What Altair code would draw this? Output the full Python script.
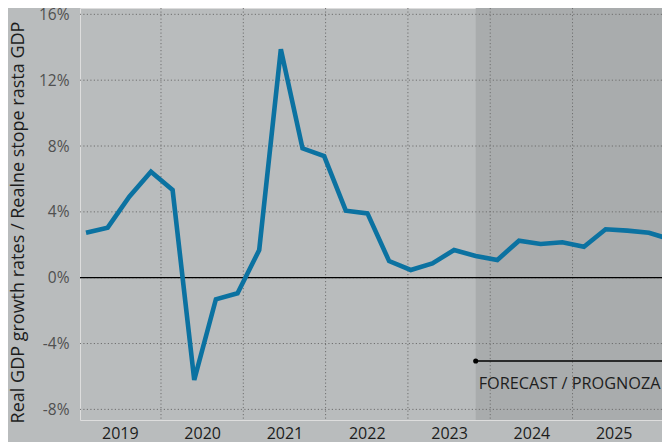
import altair as alt
import pandas as pd

# ---- data -------------------------------------------------------------
quarters = ["2019Q1", "2019Q2", "2019Q3", "2019Q4",
            "2020Q1", "2020Q2", "2020Q3", "2020Q4",
            "2021Q1", "2021Q2", "2021Q3", "2021Q4",
            "2022Q1", "2022Q2", "2022Q3", "2022Q4",
            "2023Q1", "2023Q2", "2023Q3", "2023Q4",
            "2024Q1", "2024Q2", "2024Q3", "2024Q4",
            "2025Q1", "2025Q2", "2025Q3", "2025Q4"]
growth = [2.73, 3.04, 4.92, 6.44,
          5.33, -6.21, -1.31, -0.95,
          1.68, 13.88, 7.86, 7.39,
          4.07, 3.91, 1.01, 0.47,
          0.87, 1.68, 1.32, 1.08,
          2.25, 2.05, 2.15, 1.88,
          2.94, 2.86, 2.73, 2.33]
years = [2019, 2020, 2021, 2022, 2023, 2024, 2025]
y_ticks = [-8, -4, 0, 4, 8, 12, 16]
forecast_start = "2023Q3"
forecast_label = "FORECAST / PROGNOZA"
y_title = "Real GDP growth rates / Realne stope rasta GDP"

# ---- layout / style ---------------------------------------------------
W, H = 582, 412
BG = "#b9bcbd"
FC_BG = "#a9acad"
LINE = "#0b72a1"
GRID = "#6f6f6f"
FONT = "Open Sans"

df = pd.DataFrame({"quarter": quarters, "idx": list(range(len(quarters))), "growth": growth})
fs = quarters.index(forecast_start)
fe = len(quarters) - 1

xs = alt.Scale(domain=[-0.277, 26.605], nice=False, zero=False)
ys = alt.Scale(domain=[-8.645, 16.385], nice=False, zero=False)
yrs = alt.Scale(domain=[2019.016, 2026.087], nice=False, zero=False)

yaxis = alt.Axis(values=y_ticks, labelExpr="datum.value + '%'", grid=False,
                 ticks=False, domain=False, labelPadding=11, labelFontSize=15.5,
                 labelColor="#505050", labelFont=FONT,
                 title=y_title, titleFont=FONT, titleFontSize=18,
                 titleFontWeight="normal", titleColor="#1c1c1c",
                 titleAngle=-90, titleAlign="center", titleBaseline="alphabetic",
                 titleX=-57, titleY=214)

# forecast shading (data scale)
shade = alt.Chart(pd.DataFrame({"start": [fs]})).mark_rect(color=FC_BG).encode(
    x=alt.X("start:Q", scale=xs, axis=None),
    x2=alt.value(W),
    y=alt.value(0),
    y2=alt.value(H),
)

# year axis + vertical gridlines (calendar scale)
vgrid = alt.Chart(pd.DataFrame({"boundary": years[1:]})).mark_rule(
    strokeDash=[1.2, 2.3], color=GRID, strokeWidth=1
).encode(
    x=alt.X("boundary:Q", scale=yrs,
            axis=alt.Axis(values=[y + 0.5 for y in years], labelExpr="floor(datum.value)",
                          title=None, grid=False, ticks=False, domain=False,
                          labelPadding=5, labelFontSize=16, labelColor="#1c1c1c",
                          labelFont=FONT, orient="bottom"))
)

hgrid = alt.Chart(pd.DataFrame({"v": y_ticks})).mark_rule(
    strokeDash=[1.2, 2.3], color=GRID, strokeWidth=1
).encode(
    y=alt.Y("v:Q", scale=ys, axis=yaxis)
)

zero = alt.Chart(pd.DataFrame({"v": [0]})).mark_rule(color="black", strokeWidth=1.2).encode(
    y=alt.Y("v:Q", scale=ys, axis=yaxis)
)

line = alt.Chart(df).mark_line(color=LINE, strokeWidth=4.6, strokeJoin="miter", clip=True).encode(
    x=alt.X("idx:Q", scale=xs, axis=None),
    y=alt.Y("growth:Q", scale=ys, axis=yaxis),
)

bracket = alt.Chart(pd.DataFrame({"start": [fs], "end": [fe]})).mark_rule(
    color="black", strokeWidth=1.3, clip=True
).encode(
    x=alt.X("start:Q", scale=xs, axis=None),
    x2="end:Q",
    y=alt.value(353),
)

dots = alt.Chart(pd.DataFrame({"idx": [fs, fe]})).mark_circle(size=26, color="black", opacity=1, clip=True).encode(
    x=alt.X("idx:Q", scale=xs, axis=None),
    y=alt.value(353),
)

label = alt.Chart(pd.DataFrame({"start": [fs], "label": [forecast_label]})).mark_text(
    font=FONT, fontSize=16.3, color="#1e1e1e", baseline="alphabetic", align="left", dx=3
).encode(
    x=alt.X("start:Q", scale=xs, axis=None),
    y=alt.value(381),
    text="label:N",
)

front = alt.layer(hgrid, zero, line, bracket, dots, label)

chart = alt.layer(shade, vgrid, front).resolve_scale(x="independent").properties(
    width=W, height=H,
    autosize=alt.AutoSizeParams(type="none"),
    padding={"left": 72, "top": 0, "right": 0, "bottom": 22},
    background=BG,
).configure_view(stroke=None).configure(font=FONT)

chart.save("out.html", embed_options={"renderer": "svg", "actions": False})
